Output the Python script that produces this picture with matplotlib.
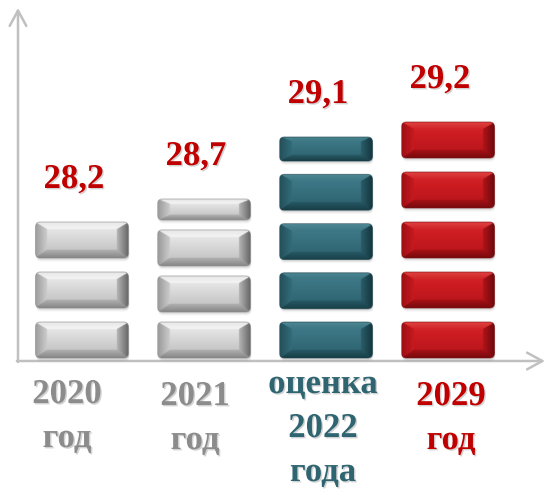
import numpy as np
import matplotlib
matplotlib.use("Agg")
import matplotlib.pyplot as plt
from matplotlib.patches import FancyBboxPatch
from matplotlib.colors import to_rgb
import matplotlib.patheffects as pe

# ---------------- data ----------------
categories = ["2020\nгод", "2021\nгод", "оценка\n2022\nгода", "2029\nгод"]
values = [28.2, 28.7, 29.1, 29.2]
value_labels = ["28,2", "28,7", "29,1", "29,2"]
# stack height of each column (in block-pitch units)
bar_heights = [2.74, 3.20, 4.44, 4.74]
block_counts = [3, 4, 5, 5]
top_block_fraction = [1.0, 0.58, 0.67, 1.0]

# ---------------- styles ----------------
palettes = {
    "gray": dict(face=[(0, "#f0f0f0"), (0.3, "#e0e0e0"), (1, "#bababa")],
                 top=("#e6e6e6", "#f4f4f4"), bottom=("#858585", "#b2b2b2"),
                 left=("#9a9a9a", "#cccccc"), right=("#626262", "#b6b6b6"),
                 edge="#8a8a8a"),
    "teal": dict(face=[(0, "#427b89"), (0.35, "#3a7381"), (1, "#2b606d")],
                 top=("#4f8894", "#3d7684"), bottom=("#173d46", "#285a66"),
                 left=("#23505b", "#336c79"), right=("#14343c", "#2a5d6a"),
                 edge="#1a424b"),
    "red": dict(face=[(0, "#d8292e"), (0.35, "#cc1c21"), (1, "#b4141a")],
                top=("#e04242", "#d02428"), bottom=("#760a0d", "#a81116"),
                left=("#9e0f14", "#c81a1f"), right=("#6a080b", "#b01419"),
                edge="#7a0a0d"),
}
bar_pal = ["gray", "gray", "teal", "red"]
label_colors = ["#8c8c8c", "#8c8c8c", "#2f6571", "#c00000"]
value_color = "#c00000"
label_dx_px = [-15, -9, -3, 3]
label_baseline_px = [403, 405, 393, 405]
line_step_px = 44

W, H = 549, 491
PX_X = 122.0        # pixels per category unit
X0_PX = 82.0        # pixel x of first category
PX_Y = 50.0         # pixels per block pitch
Y0_PX = 359.0       # pixel y of baseline

fig = plt.figure(figsize=(W / 100, H / 100), dpi=100)
ax = fig.add_axes([0, 0, 1, 1])
ax.set_xlim(-X0_PX / PX_X, (W - X0_PX) / PX_X)
ax.set_ylim((Y0_PX - H) / PX_Y, Y0_PX / PX_Y)
ax.axis("off")

bar_w = 93 / PX_X
blk_h = 0.72
rad = 5 / PX_X
asp = (5 / PX_Y) / rad


def lerp(c0, c1, t):
    a = np.array(to_rgb(c0)); b = np.array(to_rgb(c1))
    return a[None, None, :] * (1 - t[..., None]) + b[None, None, :] * t[..., None]


def block_img(w_px, h_px, pal, scale=3):
    nw, nh = int(w_px * scale), int(h_px * scale)
    u = (np.arange(nw) + 0.5) / scale
    v = (np.arange(nh) + 0.5) / scale
    U, V = np.meshgrid(u, v)
    bx = 12.0
    bt = min(7.0, h_px * 0.22)
    bb = min(8.5, h_px * 0.26)
    s = np.stack([U / bx, (w_px - U) / bx, V / bt, (h_px - V) / bb])
    idx = np.argmin(s, axis=0)
    m = np.min(s, axis=0)
    tt = np.clip(m, 0, 1)
    pos = [p[0] for p in pal["face"]]
    cols = np.array([to_rgb(p[1]) for p in pal["face"]])
    vt = V / h_px
    img = np.stack([np.interp(vt, pos, cols[:, k]) for k in range(3)], axis=-1)
    for k, key in enumerate(["left", "right", "top", "bottom"]):
        sel = (idx == k) & (m < 1)
        c = lerp(pal[key][0], pal[key][1], tt)
        img[sel] = c[sel]
    return img


def draw_block(xc, y0, h, pal, z):
    x0 = xc - bar_w / 2
    for k, a in [(0.07, 0.08), (0.045, 0.12), (0.025, 0.16)]:
        sh = FancyBboxPatch((x0 + 0.006, y0 - k), bar_w, h,
                            boxstyle=f"round,pad=0,rounding_size={rad}",
                            mutation_aspect=asp, fc="#7a7a7a", ec="none",
                            alpha=a, zorder=z)
        ax.add_patch(sh)
    outer = FancyBboxPatch((x0, y0), bar_w, h,
                           boxstyle=f"round,pad=0,rounding_size={rad}",
                           mutation_aspect=asp, fc="none", ec="none", zorder=z + 1)
    ax.add_patch(outer)
    img = block_img(bar_w * PX_X, h * PX_Y, pal)
    im = ax.imshow(img, extent=(x0, x0 + bar_w, y0, y0 + h), aspect="auto",
                   interpolation="bilinear", zorder=z + 2, origin="upper")
    im.set_clip_path(outer)
    rim = FancyBboxPatch((x0, y0), bar_w, h,
                         boxstyle=f"round,pad=0,rounding_size={rad}",
                         mutation_aspect=asp, fc="none", ec=pal["edge"],
                         lw=0.7, alpha=0.6, zorder=z + 3)
    ax.add_patch(rim)


shadow = [pe.withSimplePatchShadow(offset=(1, -1), shadow_rgbFace="#808080", alpha=0.35)]

for i, (hgt, n, frac) in enumerate(zip(bar_heights, block_counts, top_block_fraction)):
    pal = palettes[bar_pal[i]]
    sizes = [blk_h] * (n - 1) + [blk_h * frac]
    base = 0.02
    gap = (hgt - base - sum(sizes)) / (n - 1)
    y = base
    for s in sizes:
        draw_block(i, y, s, pal, 3)
        y += s + gap
    ax.text(i - 8 / PX_X, hgt + 0.68, value_labels[i], ha="center", va="baseline",
            fontsize=25, fontweight="bold", family="Liberation Serif",
            color=value_color, zorder=10, path_effects=shadow)
    for j, line in enumerate(categories[i].split("\n")):
        yp = label_baseline_px[i] + j * line_step_px
        ax.text(i + label_dx_px[i] / PX_X, (Y0_PX - yp) / PX_Y, line,
                ha="center", va="baseline", fontsize=25, fontweight="bold",
                family="Liberation Serif", color=label_colors[i], zorder=10,
                path_effects=shadow)

# axes with open arrowheads
axis_col = "#c0c0c0"
ya = (H - 361) / H
xa = 18 / W
ax.annotate("", xy=(545 / W, ya), xytext=(xa - 0.002, ya), xycoords="axes fraction",
            arrowprops=dict(arrowstyle="->,head_length=1.1,head_width=0.6",
                            color=axis_col, lw=1.8, mutation_scale=10,
                            shrinkA=0, shrinkB=0), zorder=1)
ax.annotate("", xy=(xa, (H - 8) / H), xytext=(xa, ya - 0.002), xycoords="axes fraction",
            arrowprops=dict(arrowstyle="->,head_length=1.1,head_width=0.6",
                            color=axis_col, lw=1.8, mutation_scale=10,
                            shrinkA=0, shrinkB=0), zorder=1)

fig.savefig("out.png", dpi=100, facecolor="white")
